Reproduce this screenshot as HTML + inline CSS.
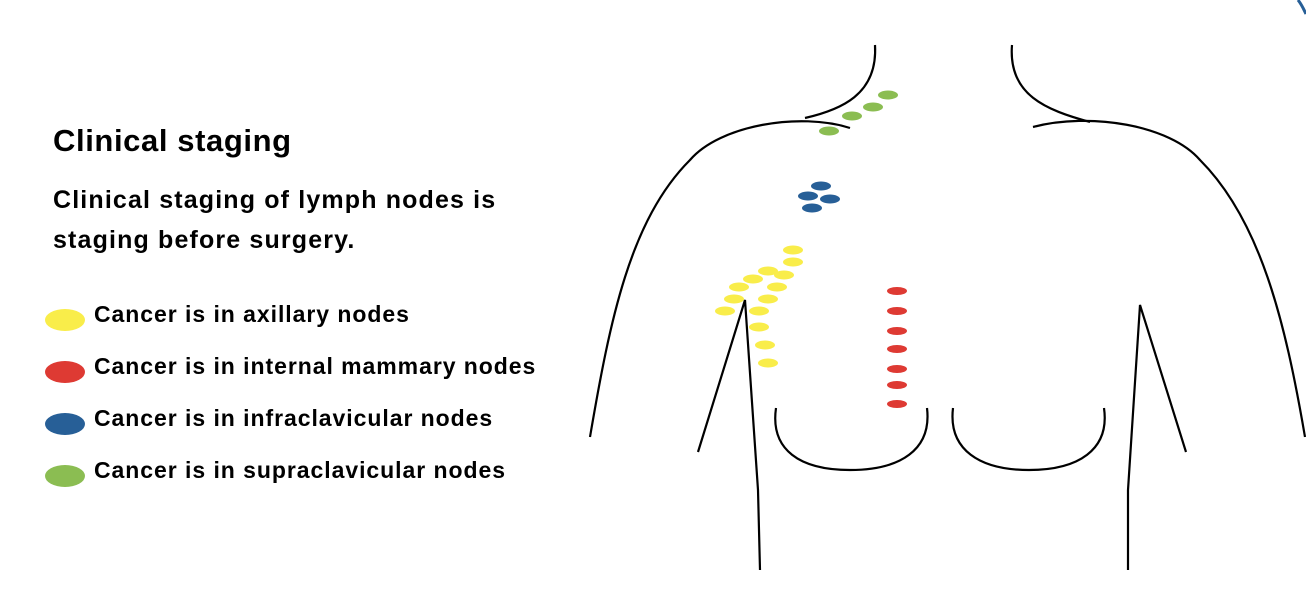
<!DOCTYPE html>
<html><head><style>
body{margin:0;width:1306px;height:600px;background:#fff;overflow:hidden;position:relative;font-family:"Liberation Sans",sans-serif;font-weight:bold;color:#000}
.t{position:absolute;white-space:nowrap}
.l{font-size:23px;letter-spacing:0.95px}
.e{position:absolute;width:40px;height:22px;border-radius:50%;left:45px}
</style></head><body>
<div class="t" style="left:53px;top:123px;font-size:31px;letter-spacing:0.6px">Clinical staging</div>
<div class="t" style="left:53px;top:180px;font-size:25px;line-height:40px;letter-spacing:1.15px">Clinical staging of lymph nodes is<br>staging before surgery.</div>
<div class="e" style="top:309px;background:#f9ed4a"></div>
<div class="e" style="top:361px;background:#de3a33"></div>
<div class="e" style="top:413px;background:#275f97"></div>
<div class="e" style="top:465px;background:#8bbd52"></div>
<div class="t l" style="left:94px;top:301px">Cancer is in axillary nodes</div>
<div class="t l" style="left:94px;top:353px">Cancer is in internal mammary nodes</div>
<div class="t l" style="left:94px;top:405px">Cancer is in infraclavicular nodes</div>
<div class="t l" style="left:94px;top:457px">Cancer is in supraclavicular nodes</div>
<svg width="1306" height="600" style="position:absolute;left:0;top:0">
<g fill="none" stroke="#000" stroke-width="2.2">
<path d="M875,45 C878,95 840,110 805,118"/>
<path d="M850,128 C800,112 720,125 690,160 C630,220 610,320 590,437"/>
<path d="M1012,45 C1008,95 1046,110 1090,122"/>
<path d="M1033,127 C1090,112 1170,125 1200,160 C1260,220 1285,320 1305,437"/>
<path d="M698,452 L745,300 L758,490 L760,570"/>
<path d="M1186,452 L1140,305 L1128,490 L1128,570"/>
<path d="M776,408 C770,450 800,470 850,470 C900,470 932,450 927,408"/>
<path d="M953,408 C948,450 980,470 1029,470 C1078,470 1110,450 1104,408"/>
</g>
<path d="M1298,0 C1302,5 1304,10 1306,14" stroke="#275f97" stroke-width="3" fill="none"/>
<g fill="#8bbd52"><ellipse cx="888" cy="95" rx="10" ry="4.5"/><ellipse cx="873" cy="107" rx="10" ry="4.5"/><ellipse cx="852" cy="116" rx="10" ry="4.5"/><ellipse cx="829" cy="131" rx="10" ry="4.5"/></g>
<g fill="#275f97"><ellipse cx="821" cy="186" rx="10" ry="4.5"/><ellipse cx="808" cy="196" rx="10" ry="4.5"/><ellipse cx="830" cy="199" rx="10" ry="4.5"/><ellipse cx="812" cy="208" rx="10" ry="4.5"/></g>
<g fill="#f9ed4a"><ellipse cx="793" cy="250" rx="10" ry="4.5"/><ellipse cx="793" cy="262" rx="10" ry="4.5"/><ellipse cx="768" cy="271" rx="10" ry="4.5"/><ellipse cx="784" cy="275" rx="10" ry="4.5"/><ellipse cx="753" cy="279" rx="10" ry="4.5"/><ellipse cx="739" cy="287" rx="10" ry="4.5"/><ellipse cx="777" cy="287" rx="10" ry="4.5"/><ellipse cx="734" cy="299" rx="10" ry="4.5"/><ellipse cx="768" cy="299" rx="10" ry="4.5"/><ellipse cx="725" cy="311" rx="10" ry="4.5"/><ellipse cx="759" cy="311" rx="10" ry="4.5"/><ellipse cx="759" cy="327" rx="10" ry="4.5"/><ellipse cx="765" cy="345" rx="10" ry="4.5"/><ellipse cx="768" cy="363" rx="10" ry="4.5"/></g>
<g fill="#de3a33"><ellipse cx="897" cy="291" rx="10" ry="4"/><ellipse cx="897" cy="311" rx="10" ry="4"/><ellipse cx="897" cy="331" rx="10" ry="4"/><ellipse cx="897" cy="349" rx="10" ry="4"/><ellipse cx="897" cy="369" rx="10" ry="4"/><ellipse cx="897" cy="385" rx="10" ry="4"/><ellipse cx="897" cy="404" rx="10" ry="4"/></g>
</svg>
</body></html>
